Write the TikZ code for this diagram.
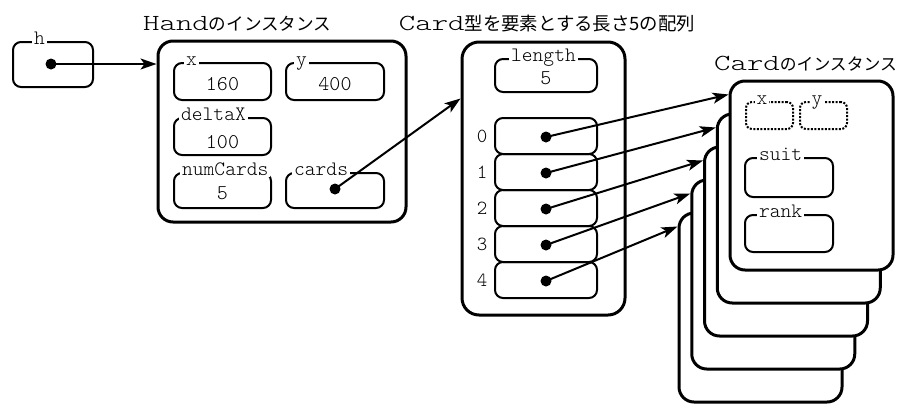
\documentclass[tikz,border=0pt]{standalone}
\usepackage{fontspec}
\usepackage{graphicx}
\newfontfamily\jpfont{Noto Sans CJK JP}
\usetikzlibrary{arrows.meta,calc}
\newcommand{\lighttt}{\ttfamily\fontseries{l}\selectfont}
\newcommand{\ttitle}[1]{\scalebox{1.36}[1]{\lighttt\fontsize{23}{23}\selectfont #1}}
\begin{document}
\begin{tikzpicture}[x=1pt,y=-1pt,
  bigbox/.style={draw, line width=3pt, rounded corners=15pt, fill=white, inner sep=0pt},
  field/.style={draw, line width=2pt, rounded corners=8pt, inner sep=0pt},
  dotfield/.style={draw, line width=2pt, rounded corners=6pt, dash pattern=on 2pt off 1.5pt, inner sep=0pt},
  flabel/.style={fill=white, inner xsep=2pt, inner ysep=1pt, font=\lighttt\fontsize{20.5}{20.5}\selectfont, anchor=base west},
  fval/.style={font=\lighttt\fontsize{21}{21}\selectfont, anchor=base, inner sep=0pt},
  idx/.style={font=\lighttt\fontsize{20}{20}\selectfont, anchor=base, inner sep=0pt},
  ptr/.style={circle, fill=black, inner sep=0pt, minimum size=11pt},
  ptrarrow/.style={line width=2pt, -{Stealth[length=16pt,width=11pt,inset=4pt]}},
  titletext/.style={inner sep=0pt},
]
\useasboundingbox (0,0) rectangle (904,405);

% titles
\node[titletext, anchor=base west] (t1) at (143,30) {\ttitle{Hand}{\jpfont\fontsize{17.6}{17.6}\selectfont のインスタンス}};
\node[titletext, anchor=base] (t2) at (547,30) {\ttitle{Card}{\jpfont\fontsize{18.4}{18.4}\selectfont 型を要素とする長さ5の配列}};
\node[titletext, anchor=base west] (t3) at (714,70) {\ttitle{Card}{\jpfont\fontsize{16.8}{16.8}\selectfont のインスタンス}};

% variable h
\node[field, minimum width=80pt, minimum height=45pt] (h) at (53,64.5) {};
\node[flabel] (lh) at ([xshift=20pt,yshift=-3.5pt]h.north west) {h};
\node[ptr] (hdot) at (51,64) {};

% Hand instance
\node[bigbox, minimum width=248pt, minimum height=181pt] (hand) at (282,131.5) {};
\node[field, minimum width=97pt, minimum height=37pt] (hx) at (222.5,81.5) {};
\node[field, minimum width=98pt, minimum height=37pt] (hy) at (335,81.5) {};
\node[field, minimum width=97pt, minimum height=37pt] (hdx) at (222.5,136.5) {};
\node[field, minimum width=97pt, minimum height=35pt] (hnc) at (222.5,190.5) {};
\node[field, minimum width=98pt, minimum height=35pt] (hcards) at (335,190.5) {};
\node[flabel] (lhx) at ([xshift=11pt,yshift=-3.5pt]hx.north west) {x};
\node[flabel] (lhy) at ([xshift=9pt,yshift=-3.5pt]hy.north west) {y};
\node[flabel] (lhdx) at ([xshift=6pt,yshift=-3.5pt]hdx.north west) {deltaX};
\node[flabel] (lhnc) at ([xshift=7pt,yshift=-3.5pt]hnc.north west) {numCards};
\node[flabel] (lhc) at ([xshift=7pt,yshift=-3.5pt]hcards.north west) {cards};
\node[fval] (vhx) at ([yshift=11pt]hx.south) {160};
\node[fval] (vhy) at ([yshift=11pt]hy.south) {400};
\node[fval] (vhdx) at ([yshift=8pt]hdx.south) {100};
\node[fval] (vhnc) at ([yshift=10pt]hnc.south) {5};
\node[ptr] (cardsdot) at (335,189) {};

% array
\node[bigbox, rounded corners=17pt, minimum width=163pt, minimum height=273pt] (array) at (543.5,178.5) {};
\node[field, minimum width=102pt, minimum height=33pt] (alen) at (546,75.5) {};
\node[flabel] (lalen) at ([xshift=15pt,yshift=-3.5pt]alen.north west) {length};
\node[fval] (valen) at ([yshift=9pt]alen.south) {5};
\foreach \i in {0,...,4} {
  \node[field, minimum width=102pt, minimum height=36pt] (s\i) at (546,136+36*\i) {};
  \node[idx] (n\i) at (482,142+36*\i) {\i};
  \node[ptr] (d\i) at (546,137+36*\i) {};
}

% card instances (stack)
\foreach \k in {4,3,2,1,0} {
  \node[bigbox, minimum width=163pt, minimum height=189pt] (c\k) at (811.5-12.75*\k,175.5+33*\k) {};
}
\node[dotfield, minimum width=47pt, minimum height=27pt] (cx) at (769.5,115.5) {};
\node[dotfield, minimum width=47pt, minimum height=27pt] (cy) at (823.5,115.5) {};
\node[field, minimum width=88pt, minimum height=39pt] (csuit) at (789,177.5) {};
\node[field, minimum width=88pt, minimum height=37pt] (crank) at (789,233.5) {};
\node[flabel, inner xsep=1.5pt] (lcx) at ([xshift=10pt,yshift=-3.5pt]cx.north west) {x};
\node[flabel, inner xsep=1.5pt] (lcy) at ([xshift=11pt,yshift=-3.5pt]cy.north west) {y};
\node[flabel] (lcs) at ([xshift=13pt,yshift=-3.5pt]csuit.north west) {suit};
\node[flabel] (lcr) at ([xshift=13pt,yshift=-3.5pt]crank.north west) {rank};

% connectors
\draw[ptrarrow] (hdot.center) -- (hand.west |- hdot.center);
\draw[ptrarrow] (cardsdot.center) -- ([yshift=-58pt]array.north west);
\foreach \i in {0,...,4} {
  \draw[ptrarrow] (d\i.center) -- ([yshift=-15pt]c\i.north west);
}
\end{tikzpicture}
\end{document}
